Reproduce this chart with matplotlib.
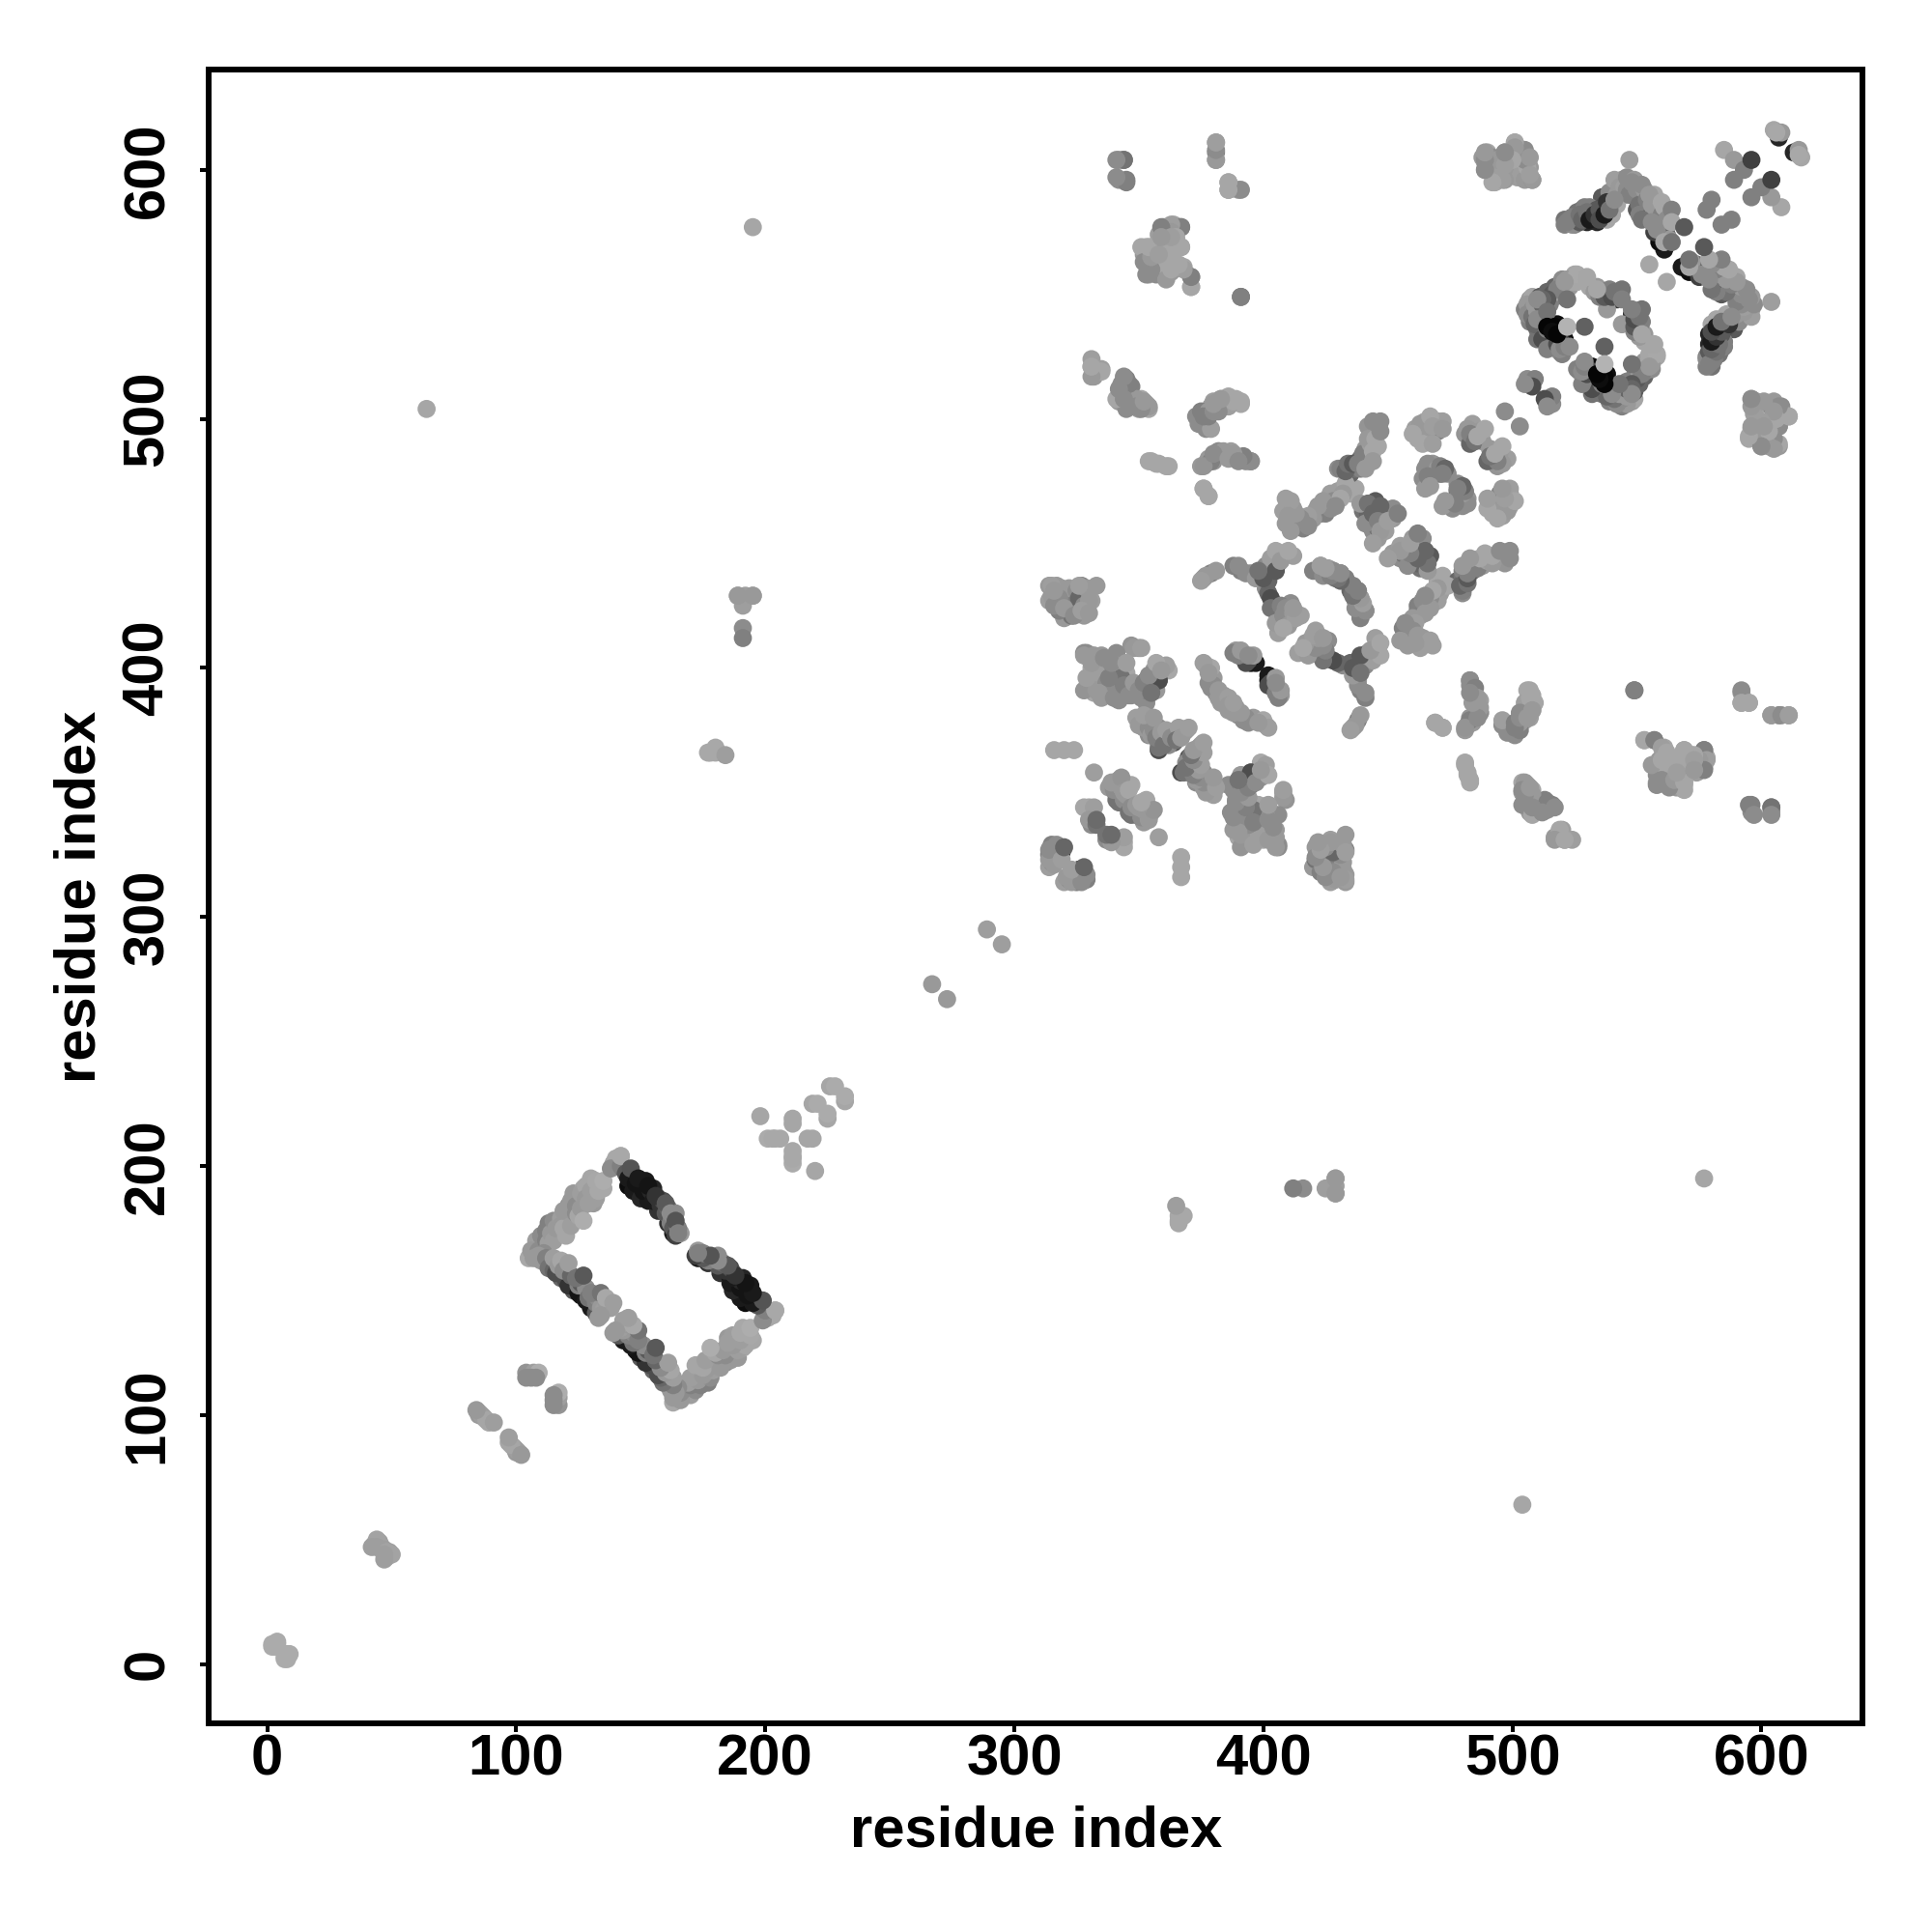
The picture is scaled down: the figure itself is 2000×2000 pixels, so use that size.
import matplotlib
matplotlib.use('Agg')
import matplotlib.pyplot as plt

plt.rcParams['font.family'] = ['Liberation Sans', 'DejaVu Sans']
plt.rcParams['font.weight'] = 'bold'

# contacts as (residue, residue, grey level); the map is symmetric so each is drawn twice
near_start = [(2, 8, .67), (3, 8, .67), (3, 7, .67), (4, 8, .67), (2, 7, .67), (4, 9, .67),
              (43, 48, .62), (44, 49, .62), (45, 49, .62), (46, 47, .62), (44, 50, .64), (45, 48, .64), (42, 47, .62), (44, 47, .62),
              (85, 101, .65), (85, 100, .6), (86, 100, .62), (87, 99, .62), (88, 98, .65), (89, 97, .65),
              (91, 97, .62), (84, 102, .6),
              (104, 117, .58), (107, 117, .62), (109, 117, .68), (104, 115, .55), (106, 115, .55), (108, 115, .55)]

far_single = [(64, 504, .65), (195, 577, .65), (267, 273, .6), (289, 295, .62),
              (189, 429, .62), (192, 429, .62), (195, 429, .65), (191, 425, .62), (191, 416, .55), (191, 412, .5),
              (189, 429, .6), (195, 429, .6),
              (177, 366, .66), (178, 366, .66), (180, 368, .66), (180, 366, .66), (184, 365, .62)]

light_patch = [(198, 220, .65), (201, 211, .67), (204, 211, .67), (206, 211, .66), (203, 211, .66), (211, 219, .65),
               (211, 217, .65), (219, 225, .65), (221, 225, .67), (226, 232, .65), (228, 232, .67)]

ring_edge_a = [(105, 163, .66), (108, 170, .62), (111, 167, .55), (113, 177, .5), (117, 177, .55), (117, 173, .62),
               (121, 184, .55), (120, 180, .6), (123, 189, .6), (125, 186, .35), (123, 178, .65), (127, 191, .65),
               (130, 195, .65), (131, 188, .6), (131, 185, .6), (134, 193, .65), (139, 201, .65), (142, 204, .68)]
ring_fill_a = [(106, 166, .6), (107, 164, .6), (109, 166, .55), (110, 172, .55), (112, 170, .5), (112, 174, .5),
               (113, 169, .62), (114, 173, .6), (115, 178, .55), (115, 170, .62), (116, 175, .6), (118, 179, .62),
               (118, 176, .6), (119, 175, .65), (119, 182, .6), (120, 172, .65), (122, 176, .62), (122, 186, .6),
               (124, 184, .55), (124, 181, .55), (125, 180, .65), (126, 183, .6), (126, 189, .62), (127, 178, .68),
               (128, 192, .65), (128, 187, .6), (129, 185, .62), (130, 190, .62), (132, 194, .66), (132, 187, .62),
               (133, 190, .66), (135, 191, .66), (135, 194, .68), (140, 203, .66), (138, 199, .55)]

ring_edge_b = [(145, 192, .05), (143, 199, .35), (147, 190, .1), (150, 187, .15), (153, 186, .1),
               (157, 182, .2), (161, 177, .2), (163, 173, .1),
               (142, 200, .5), (144, 197, .35), (145, 195, .1), (147, 196, .1), (148, 193, .08), (150, 193, .08),
               (151, 190, .08), (152, 194, .1), (154, 190, .15), (155, 186, .1), (155, 191, .15), (157, 187, .25),
               (158, 184, .2), (159, 186, .3), (160, 181, .35), (161, 183, .4), (162, 177, .5), (163, 179, .5),
               (163, 175, .35), (164, 172, .25), (166, 173, .6), (165, 175, .5), (164, 181, .55),
               (142, 204, .66), (146, 199, .33), (149, 195, .1), (153, 192, .08), (156, 188, .2),
               (160, 185, .35), (162, 181, .55), (164, 178, .33), (165, 173, .5)]

ring_edge_c = [(111, 165, .55), (114, 161, .5), (118, 155, .4), (123, 150, .35), (126, 148, .1), (130, 143, .1),
               (107, 163, .6), (109, 164, .6), (110, 162, .6), (112, 163, .5), (113, 159, .45), (115, 158, .4),
               (116, 157, .3), (120, 154, .3), (121, 152, .2), (123, 154, .2), (125, 149, .08), (128, 146, .1),
               (131, 146, .1), (132, 141, .35),
               (115, 163, .62), (117, 160, .6), (118, 162, .65), (119, 158, .55), (122, 156, .4), (125, 152, .5),
               (126, 153, .35), (128, 151, .55), (129, 147, .45), (131, 148, .5), (132, 145, .5), (133, 147, .55),
               (134, 143, .6), (135, 142, .62), (136, 146, .6), (137, 144, .62), (138, 143, .62), (134, 140, .6),
               (121, 161, .62), (124, 155, .45), (127, 156, .35), (130, 149, .5), (134, 149, .45),
               (133, 139, .6), (136, 147, .66), (139, 145, .62)]

cross_315 = [(314, 320, .62), (315, 329, .5), (314, 325, .5), (316, 327, .5), (319, 326, .15), (315, 322, .55),
             (317, 324, .6), (314, 323, .6), (316, 321, .6), (318, 328, .5), (317, 329, .55), (314, 327, .55),
             (319, 323, .62), (320, 328, .4),
             (316, 367, .65), (320, 367, .65), (324, 367, .65), (332, 358, .62),
             (338, 352, .6), (340, 354, .62), (341, 349, .5), (342, 346, .45), (342, 355, .6), (345, 353, .55),
             (341, 347, .45), (344, 347, .55), (340, 351, .55), (339, 354, .6), (343, 352, .6), (345, 349, .6),
             (347, 353, .65), (343, 356, .58), (344, 350, .6), (346, 351, .65),
             (328, 344, .65), (330, 344, .65), (332, 344, .62), (331, 337, .55), (330, 339, .6), (333, 337, .45), (333, 339, .42)]

block_330 = [(362, 399, .66), (358, 401, .66), (353, 395, .35), (358, 395, .45), (357, 391, .6), (353, 388, .6),
             (350, 391, .5), (353, 386, .55), (344, 389, .5), (344, 395, .55), (338, 389, .5), (338, 392, .5),
             (340, 397, .6), (340, 400, .6), (340, 404, .55), (338, 403, .5), (332, 390, .65), (332, 395, .65),
             (331, 405, .58), (328, 406, .55), (350, 408, .6), (347, 409, .58),
             (360, 400, .66), (356, 396, .4), (355, 391, .55), (351, 388, .55), (349, 393, .55), (347, 389, .55),
             (346, 392, .55), (342, 391, .5), (342, 387, .55), (336, 391, .55), (335, 388, .6), (333, 392, .62),
             (336, 397, .6), (338, 399, .6), (342, 398, .6), (343, 402, .62), (336, 402, .55), (331, 400, .65),
             (331, 392, .66), (329, 406, .55), (335, 405, .6), (333, 398, .62), (345, 398, .65)]

block_430 = [(324, 427, .35), (314, 427, .62), (314, 433, .6), (317, 433, .6), (317, 427, .55), (320, 420, .6), (323, 421, .45),
             (318, 423, .5), (328, 421, .6), (327, 433, .5), (331, 427, .62), (333, 433, .6),
             (315, 429, .6), (316, 425, .55), (319, 432, .6), (321, 428, .55), (322, 432, .6), (323, 425, .5),
             (325, 431, .55), (326, 428, .4), (328, 425, .55), (329, 432, .6), (330, 427, .6), (315, 433, .62),
             (318, 428, .55), (320, 424, .6), (324, 421, .55), (327, 423, .62), (330, 422, .6), (316, 431, .6),
             (326, 433, .62)]

block_395 = [(328, 405, .6), (332, 405, .6), (328, 391, .58), (333, 391, .6), (337, 394, .55), (341, 406, .55),
             (341, 401, .6), (341, 391, .55), (343, 396, .45), (348, 408, .6), (351, 408, .62), (353, 391, .5),
             (356, 399, .6), (358, 395, .3), (361, 401, .62),
             (329, 396, .62), (331, 402, .6), (334, 390, .6), (336, 404, .55), (338, 396, .5), (339, 402, .55),
             (340, 388, .55), (344, 393, .5), (345, 402, .62), (346, 389, .55), (348, 394, .6), (350, 391, .55),
             (352, 394, .5), (354, 397, .55), (355, 390, .45), (357, 402, .65), (359, 399, .6)]

block_355 = [(349, 380, .62), (354, 380, .62), (354, 373, .55), (351, 379, .62), (353, 378, .6), (356, 377, .6),
             (358, 376, .55), (358, 370, .55), (358, 367, .3), (360, 372, .5), (362, 373, .55), (364, 370, .3),
             (362, 369, .55), (358, 368, .45), (368, 374, .62), (369, 375, .6),
             (350, 377, .6), (352, 376, .6), (354, 376, .55), (355, 373, .6), (356, 375, .55), (357, 372, .5),
             (359, 374, .6), (360, 369, .45), (361, 375, .62), (363, 372, .55), (365, 373, .55), (366, 376, .62),
             (365, 371, .45), (367, 372, .6), (352, 381, .62), (356, 380, .6), (370, 376, .62)]

block_380 = [(395, 402, .05), (396, 403, .05), (397, 402, .1), (392, 404, .35), (394, 403, .3), (393, 402, .3),
             (377, 401, .65), (378, 394, .55), (379, 392, .55), (380, 396, .6), (381, 390, .55), (382, 388, .6),
             (384, 389, .6), (389, 407, .6), (388, 406, .5), (396, 405, .6),
             (379, 400, .65), (380, 393, .55), (382, 391, .6), (383, 386, .6), (385, 386, .6), (386, 388, .62),
             (376, 402, .62), (378, 398, .6), (390, 405, .5), (391, 407, .6), (394, 405, .55),
             (376, 436, .6), (379, 438, .5), (381, 439, .6), (377, 437, .6), (375, 435, .62)]

cross_left = [(388, 441, .5), (391, 439, .5), (395, 438, .6), (399, 437, .6), (403, 438, .35), (406, 442, .5),
              (408, 446, .65), (412, 445, .62), (401, 432, .55), (404, 426, .4), (406, 421, .5), (406, 414, .62),
              (411, 426, .55), (411, 419, .6), (415, 421, .62),
              (402, 435, .4), (401, 441, .55), (403, 444, .62), (405, 447, .65), (405, 439, .35), (407, 443, .6),
              (410, 447, .65), (402, 430, .4), (403, 428, .3), (403, 424, .45), (405, 423, .45), (407, 425, .5),
              (405, 418, .6), (408, 421, .55), (409, 424, .55), (410, 417, .6), (412, 422, .6), (413, 420, .62),
              (408, 416, .65), (393, 438, .55), (397, 436, .6), (390, 441, .55), (400, 436, .35), (398, 439, .45),
              (412, 424, .6),
              (420, 439, .5), (423, 441, .55), (424, 437, .55), (426, 440, .62), (428, 439, .6), (429, 436, .45),
              (431, 438, .5), (433, 436, .5), (435, 431, .4), (436, 430, .45), (437, 427, .5), (438, 431, .55),
              (439, 428, .55), (440, 425, .62), (441, 423, .62)]

cross_top = [(409, 468, .62), (408, 463, .62), (412, 464, .6), (409, 458, .6), (413, 458, .6), (416, 458, .55),
             (416, 456, .5), (421, 463, .62), (423, 462, .5), (426, 466, .6), (430, 471, .62), (437, 472, .65),
             (430, 480, .55), (435, 478, .4), (437, 480, .45), (439, 484, .4), (439, 480, .5),
             (427, 470, .62), (428, 467, .55), (425, 462, .5), (427, 464, .55), (424, 467, .6), (422, 465, .6),
             (420, 460, .6), (418, 461, .62), (418, 457, .55), (415, 460, .55), (413, 462, .6), (411, 467, .62),
             (410, 461, .6), (411, 455, .6), (433, 474, .65), (435, 470, .65), (432, 470, .6), (431, 468, .65),
             (429, 465, .55),
             (431, 480, .5), (433, 479, .4), (434, 482, .45), (436, 482, .35), (438, 482, .5), (441, 488, .6),
             (442, 484, .55), (440, 486, .5), (443, 490, .62), (443, 495, .55), (445, 497, .6), (446, 489, .65),
             (441, 480, .6), (442, 497, .58),
             (442, 492, .6), (444, 487, .65), (444, 483, .6), (445, 492, .65), (444, 499, .55), (447, 499, .55),
             (447, 495, .55),
             (440, 463, .45), (443, 464, .4), (445, 467, .35), (443, 459, .5), (442, 462, .4), (444, 455, .55),
             (446, 452, .6), (448, 462, .45), (449, 460, .5), (450, 463, .55), (452, 460, .6), (449, 455, .62),
             (452, 464, .55), (446, 456, .45),
             (439, 466, .6), (442, 466, .45), (441, 458, .55), (444, 462, .4), (447, 465, .4), (446, 459, .5),
             (447, 455, .6), (444, 450, .62), (450, 459, .62), (454, 462, .5)]

block_465 = [(461, 496, .62), (465, 499, .65), (470, 499, .6), (472, 499, .62), (462, 492, .65), (466, 492, .62),
             (470, 495, .5), (464, 494, .6),
             (463, 498, .6), (467, 501, .65), (468, 497, .62), (460, 494, .65), (464, 490, .65), (468, 490, .62),
             (472, 496, .6), (481, 494, .58), (484, 498, .62), (487, 495, .6), (483, 490, .4), (488, 491, .6),
             (482, 496, .6), (483, 494, .5), (485, 491, .45), (486, 493, .65), (489, 496, .65), (497, 503, .55),
             (465, 480, .55), (468, 482, .58), (471, 478, .4), (474, 478, .55), (464, 476, .55), (465, 472, .6),
             (466, 482, .55), (470, 480, .6), (471, 481, .5), (473, 480, .4), (472, 478, .5), (466, 477, .5),
             (467, 473, .6)]

arch_520 = [(561, 568, .1), (559, 571, .05), (540, 588, .05), (533, 580, .1), (552, 588, .2), (550, 590, .2),
            (530, 579, .15), (534, 579, .15), (538, 584, .15), (553, 584, .2),
            (521, 580, .45), (525, 578, .5), (528, 584, .5), (532, 582, .3), (536, 582, .3),
            (536, 589, .35), (540, 582, .65), (541, 593, .6), (545, 590, .55), (544, 596, .6),
            (521, 578, .5), (523, 580, .5), (524, 578, .55), (526, 583, .45), (526, 580, .5), (527, 579, .35),
            (529, 585, .5), (529, 581, .4), (531, 585, .5), (534, 584, .35), (537, 586, .3), (538, 580, .65),
            (539, 591, .55), (540, 586, .65), (541, 596, .62), (542, 590, .6), (542, 586, .65), (543, 593, .6),
            (545, 593, .62), (546, 597, .55), (546, 592, .55), (547, 590, .5), (549, 596, .6), (550, 592, .55),
            (550, 584, .35), (551, 586, .45), (551, 582, .5), (553, 592, .6), (554, 588, .5), (555, 581, .4),
            (556, 586, .6), (557, 590, .65), (557, 583, .6), (557, 575, .25), (558, 578, .6), (560, 582, .5),
            (561, 585, .65), (561, 577, .6), (562, 580, .55), (562, 574, .4), (563, 572, .6),
            (548, 595, .55), (552, 594, .55), (555, 590, .6), (552, 580, .45), (556, 579, .55),
            (560, 587, .65), (564, 584, .5), (558, 576, .55), (564, 579, .65), (561, 571, .65),
            (564, 571, .45), (569, 577, .35), (547, 604, .62), (555, 562, .65),
            (578, 584, .5), (580, 588, .5),
            (522, 579, .5), (524, 581, .5), (527, 582, .45), (528, 580, .4), (530, 583, .45), (531, 580, .1),
            (533, 582, .2), (535, 584, .35), (535, 580, .3), (537, 582, .1), (538, 587, .2), (539, 584, .45),
            (541, 588, .55)]

hex_510 = [(514, 537, .02), (517, 537, .02), (513, 534, .02), (515, 535, .02), (518, 538, .05), (521, 532, .05),
           (516, 532, .1), (519, 535, .1), (518, 533, .1), (512, 536, .2), (542, 548, .2),
           (505, 544, .5), (507, 548, .6), (507, 539, .5), (508, 549, .65), (510, 536, .45), (510, 532, .45),
           (514, 531, .4), (514, 548, .4), (517, 553, .4), (521, 551, .35), (520, 556, .55), (525, 558, .65),
           (528, 556, .6), (534, 553, .6), (538, 551, .4), (544, 552, .45), (538, 544, .6),
           (506, 546, .6), (506, 542, .55), (508, 544, .55), (508, 541, .45), (509, 546, .6), (510, 543, .6),
           (511, 540, .5), (509, 538, .4), (512, 532, .3), (519, 532, .3), (511, 549, .35), (512, 546, .4),
           (514, 551, .4), (515, 546, .5), (516, 550, .35), (517, 549, .5), (518, 551, .6), (519, 553, .55),
           (521, 554, .55), (522, 556, .6), (523, 553, .6), (524, 555, .65), (526, 555, .65), (526, 558, .66),
           (530, 555, .65), (531, 553, .65), (533, 551, .6), (535, 549, .5), (536, 551, .35), (537, 549, .35),
           (539, 552, .5), (540, 549, .3), (541, 551, .45), (544, 548, .5),
           (518, 552, .5), (521, 555, .6), (530, 557, .65), (534, 552, .65), (522, 548, .45), (514, 548, .35),
           (512, 548, .4), (510, 548, .55), (510, 540, .55), (514, 543, .45), (514, 536, .5), (516, 529, .45),
           (519, 527, .6), (514, 528, .5), (518, 530, .3), (520, 526, .5), (519, 528, .55), (521, 529, .5),
           (529, 537, .38), (523, 529, .55),
           (514, 537, .02), (517, 537, .02), (516, 535, .05), (518, 534, .02), (522, 537, .7),
           (506, 516, .55), (509, 516, .5), (508, 513, .3), (505, 514, .55)]

corner_600 = [(607, 613, .15), (605, 616, .65), (608, 615, .6), (606, 615, .66), (585, 608, .65), (589, 604, .6),
              (593, 600, .5), (589, 596, .5), (596, 604, .25)]

upper_341 = [(342, 604, .55), (344, 604, .5), (342, 596, .55), (345, 595, .5), (381, 611, .6), (381, 607, .5),
             (381, 604, .6), (386, 595, .65), (386, 592, .62), (390, 592, .6),
             (360, 577, .55), (364, 578, .65), (367, 577, .53), (353, 569, .65), (352, 566, .6), (356, 566, .65),
             (367, 569, .65), (360, 570, .65), (360, 561, .65), (354, 558, .6), (357, 558, .55), (361, 558, .6),
             (358, 574, .62), (362, 574, .65), (360, 567, .65), (358, 563, .65), (363, 565, .65), (355, 561, .6),
             (363, 559, .6), (355, 569, .65), (365, 572, .66), (362, 577, .55),
             (368, 561, .65), (371, 557, .5), (371, 553, .65), (391, 549, .47)]

upper_331 = [(331, 524, .62), (335, 520, .62), (332, 517, .6), (331, 521, .62),
             (345, 516, .5), (347, 513, .5), (342, 507, .6), (344, 507, .45), (351, 508, .65), (354, 504, .65),
             (343, 514, .55), (346, 510, .5), (348, 508, .55), (353, 506, .62), (349, 506, .55), (346, 505, .6),
             (350, 504, .6),
             (373, 501, .55), (377, 496, .55), (377, 499, .5), (379, 505, .6), (381, 505, .6), (383, 508, .65),
             (374, 498, .55), (375, 503, .5), (376, 500, .55), (378, 503, .6), (380, 507, .62), (385, 508, .65),
             (389, 508, .65), (387, 508, .65), (391, 506, .65),
             (355, 483, .65), (358, 482, .65), (362, 481, .65), (375, 481, .6), (377, 482, .6), (380, 483, .58),
             (378, 484, .6), (382, 487, .6), (384, 486, .6), (387, 487, .62), (389, 485, .58), (392, 484, .5),
             (393, 483, .55), (395, 483, .55), (376, 472, .65), (378, 469, .65)]

right_380 = [(395, 483, .55), (392, 485, .5), (388, 486, .6), (382, 487, .55), (379, 483, .5), (376, 481, .58),
             (384, 487, .6), (380, 486, .55), (386, 484, .6), (390, 483, .55),
             (378, 469, .65), (376, 472, .65), (379, 496, .62), (376, 501, .5), (378, 501, .5), (380, 503, .55),
             (382, 507, .6), (384, 505, .6), (386, 505, .62), (388, 507, .65), (382, 503, .55),
             (391, 507, .65), (386, 509, .65), (383, 508, .6), (380, 506, .6),
             (361, 481, .65), (357, 482, .65), (354, 483, .65)]

right_345 = [(354, 505, .6), (351, 504, .55), (349, 508, .6), (345, 504, .55), (341, 508, .65), (346, 514, .5),
             (349, 505, .55), (352, 507, .6), (344, 508, .55), (342, 512, .55),
             (344, 517, .55), (335, 519, .65), (331, 517, .6), (331, 521, .65)]

right_550 = [(391, 549, .5), (371, 553, .65), (371, 557, .5), (368, 560, .62), (359, 558, .55), (353, 558, .55),
             (359, 562, .65), (367, 569, .65), (351, 569, .65), (357, 569, .55), (367, 577, .5), (363, 578, .62),
             (361, 556, .6), (363, 560, .65), (366, 562, .65), (365, 569, .65), (355, 560, .55), (352, 563, .55),
             (355, 565, .6), (354, 569, .65), (363, 575, .6), (361, 572, .65), (365, 573, .65), (358, 566, .62),
             (359, 577, .5), (363, 573, .62), (359, 573, .6),
             (391, 592, .55), (386, 592, .65), (386, 595, .65), (381, 604, .6), (381, 608, .55), (381, 611, .62),
             (345, 596, .5), (341, 597, .55), (344, 604, .45), (341, 604, .55)]

right_490 = [(490, 607, .65), (497, 607, .55), (501, 611, .65), (505, 607, .55), (492, 605, .55), (488, 605, .6),
             (489, 603, .6), (491, 601, .6), (494, 598, .6), (500, 606, .65), (503, 605, .6), (499, 600, .62),
             (502, 597, .62), (495, 603, .65),
             (489, 600, .55), (497, 601, .6), (507, 601, .6), (493, 595, .65), (497, 596, .6), (505, 596, .6),
             (508, 596, .55),
             (596, 508, .6), (601, 506, .65), (604, 505, .55), (608, 505, .55), (611, 501, .65), (596, 496, .62),
             (598, 507, .62), (605, 507, .6), (597, 493, .62), (604, 494, .6), (609, 501, .6), (604, 500, .65),
             (595, 492, .65), (602, 497, .62), (607, 497, .55), (600, 489, .55), (604, 489, .55), (607, 489, .6)]

groups = [near_start, far_single, light_patch, ring_edge_a, ring_fill_a, ring_edge_b, ring_edge_c, cross_315,
          block_330, block_430, block_395, block_355, block_380, cross_left, cross_top, block_465, arch_520,
          hex_510, corner_600, upper_341, upper_331, right_380, right_345, right_550, right_490]

tick_values = [0, 100, 200, 300, 400, 500, 600]

fig = plt.figure(figsize=(20, 20), dpi=100)
ax = fig.add_axes([216.3 / 2000, 1 - 1784 / 2000, 1712 / 2000, 1712.3 / 2000])

for group in groups:
    xs = [c[0] for c in group] + [c[1] for c in group]
    ys = [c[1] for c in group] + [c[0] for c in group]
    greys = [str(c[2]) for c in group] * 2
    ax.scatter(xs, ys, s=182, c=greys, linewidths=0)

ax.set_xlim(-23.4, 640.7)
ax.set_ylim(-23.8, 640.4)
ax.set_xticks(tick_values)
ax.set_yticks(tick_values)
ax.tick_params(axis='both', length=6.5, width=2.9, labelsize=43)
ax.tick_params(axis='x', pad=1)
ax.tick_params(axis='y', pad=19)
for lab in ax.get_yticklabels():
    lab.set_rotation(90)
    lab.set_va('center')
for spine in ax.spines.values():
    spine.set_linewidth(4.3)

ax.set_xlabel('residue index', fontsize=43, fontweight='bold', labelpad=14)
ax.set_ylabel('residue index', fontsize=43, fontweight='bold', labelpad=11)

fig.savefig('out.png', dpi=100)
